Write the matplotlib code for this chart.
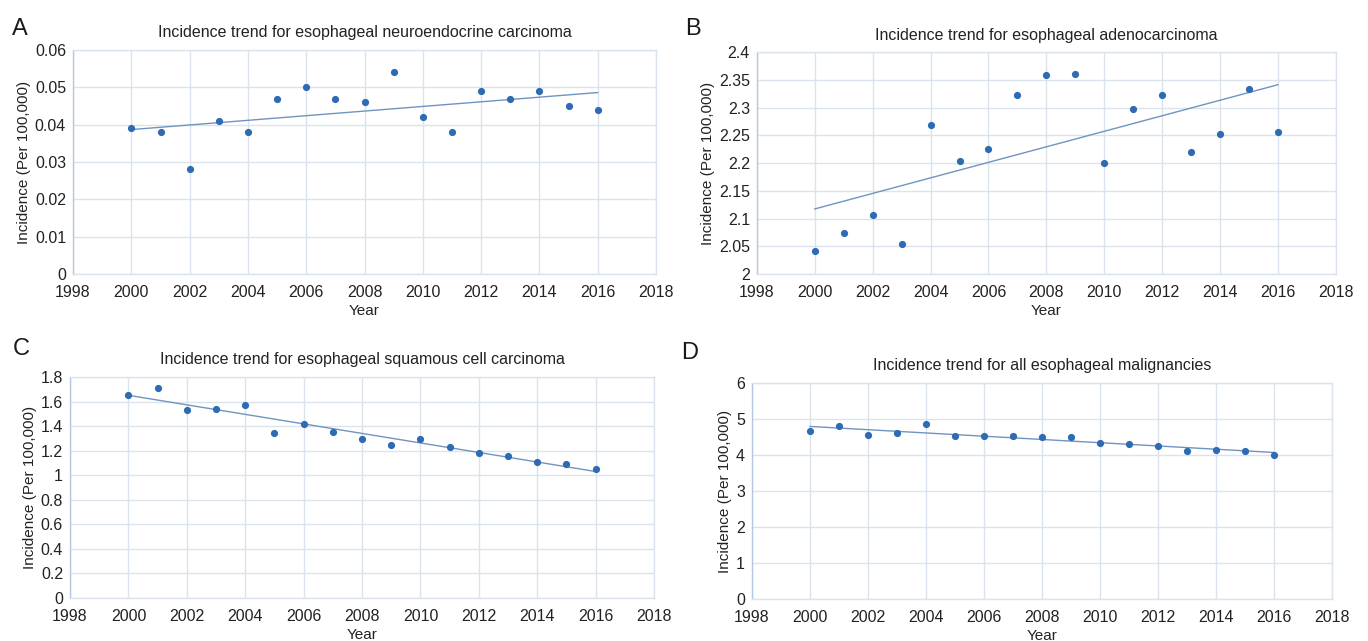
import numpy as np
import matplotlib
matplotlib.use("Agg")
import matplotlib.pyplot as plt

plt.rcParams['font.family'] = ['Liberation Sans', 'DejaVu Sans']

years = list(range(2000, 2017))

# incidence per 100,000 by year
neuroendocrine = [0.039, 0.038, 0.028, 0.041, 0.038, 0.047, 0.050, 0.047, 0.046,
                  0.054, 0.042, 0.038, 0.049, 0.047, 0.049, 0.045, 0.044]
adenocarcinoma = [2.041, 2.074, 2.107, 2.054, 2.269, 2.204, 2.226, 2.323, 2.359,
                  2.360, 2.200, 2.297, 2.323, 2.219, 2.252, 2.333, 2.256]
squamous = [1.651, 1.708, 1.533, 1.543, 1.570, 1.346, 1.419, 1.354, 1.294,
            1.249, 1.294, 1.232, 1.181, 1.160, 1.108, 1.089, 1.054]
all_malignancies = [4.657, 4.796, 4.546, 4.602, 4.870, 4.528, 4.537, 4.537, 4.500,
                    4.509, 4.324, 4.306, 4.250, 4.111, 4.148, 4.120, 4.000]

titles = ["Incidence trend for esophageal neuroendocrine carcinoma",
          "Incidence trend for esophageal adenocarcinoma",
          "Incidence trend for esophageal squamous cell carcinoma",
          "Incidence trend for all esophageal malignancies"]
letters = ["A", "B", "C", "D"]
y_ticks = [np.arange(0, 0.061, 0.01), np.arange(2.0, 2.401, 0.05),
           np.arange(0, 1.81, 0.2), np.arange(0, 6.1, 1)]
y_labels = [["0", "0.01", "0.02", "0.03", "0.04", "0.05", "0.06"],
            ["2", "2.05", "2.1", "2.15", "2.2", "2.25", "2.3", "2.35", "2.4"],
            ["0", "0.2", "0.4", "0.6", "0.8", "1", "1.2", "1.4", "1.6", "1.8"],
            ["0", "1", "2", "3", "4", "5", "6"]]
x_ticks = list(range(1998, 2019, 2))

# axes boxes in figure fractions: left, bottom, width, height
boxes = [[0.0534, 0.5725, 0.4262, 0.3495],
         [0.5533, 0.5725, 0.4232, 0.3463],
         [0.0512, 0.0671, 0.4269, 0.3448],
         [0.5497, 0.0655, 0.4240, 0.3370]]
letter_pos = [(0.009, 0.972), (0.501, 0.972), (0.009, 0.472), (0.498, 0.466)]

grid_col = '#dbe3ec'
dot_col = '#2f6bb3'
trend_col = '#7094c0'

fig = plt.figure(figsize=(13.68, 6.41), dpi=100)
series = [neuroendocrine, adenocarcinoma, squamous, all_malignancies]

for i, values in enumerate(series):
    ax = fig.add_axes(boxes[i])
    x = np.array(years)
    y = np.array(values)
    # linear trend line across the data years
    k, b = np.polyfit(x, y, 1)
    ax.plot([x[0], x[-1]], [k * x[0] + b, k * x[-1] + b], color=trend_col, lw=1.0, zorder=3)
    ax.plot(x, y, 'o', color=dot_col, ms=5.2, mec='none', zorder=4)

    ax.set_xlim(1998, 2018)
    ax.set_ylim(y_ticks[i][0], y_ticks[i][-1])
    ax.set_xticks(x_ticks)
    ax.set_yticks(y_ticks[i])
    ax.set_yticklabels(y_labels[i])
    ax.grid(True, color=grid_col, lw=1.0)
    ax.set_axisbelow(True)
    ax.tick_params(length=0, labelsize=11.5, colors='#222222', pad=5)
    ax.tick_params(axis='x', pad=8)
    for side in ['top', 'right', 'bottom']:
        ax.spines[side].set_color(grid_col)
        ax.spines[side].set_linewidth(1.0)
    ax.spines['left'].set_color('#b5c8e2')
    ax.spines['left'].set_linewidth(1.0)

    ax.set_title(titles[i], fontsize=11.5, color='#222222', pad=9)
    ax.set_xlabel("Year", fontsize=11, color='#222222', labelpad=3)
    ax.set_ylabel("Incidence (Per 100,000)", fontsize=11, color='#222222', labelpad=3)

    fig.text(letter_pos[i][0], letter_pos[i][1], letters[i], fontsize=17,
             va='top', ha='left', color='#1a1a1a')

fig.savefig("out.png", dpi=100, facecolor='white')
